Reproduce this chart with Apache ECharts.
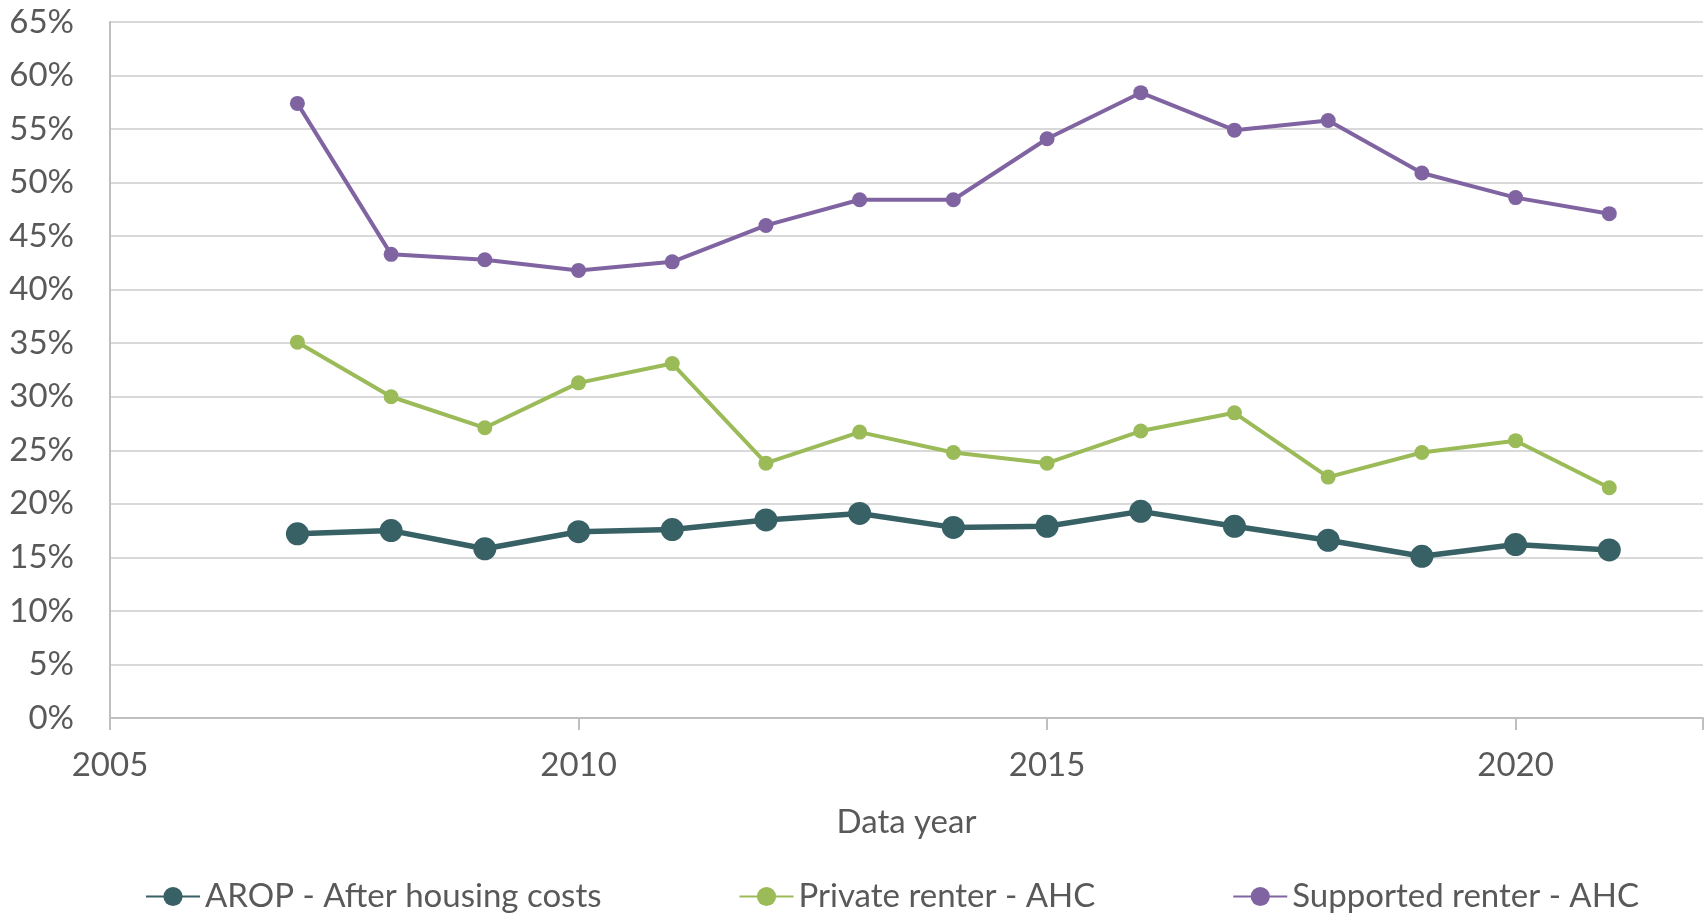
<!DOCTYPE html>
<html>
<head>
<meta charset="UTF-8">
<title>AROP after housing costs</title>
<script src="https://cdn.jsdelivr.net/npm/echarts@6/dist/echarts.min.js"></script>
<style>
  html, body { margin: 0; padding: 0; background: #fff; }
  #main { width: 1706px; height: 915px; }
</style>
</head>
<body>
<div id="main"></div>
<script>
// data (percent)
var years = [2007, 2008, 2009, 2010, 2011, 2012, 2013, 2014, 2015, 2016, 2017, 2018, 2019, 2020, 2021];
var arop = [17.2, 17.5, 15.8, 17.4, 17.6, 18.5, 19.1, 17.8, 17.9, 19.3, 17.9, 16.6, 15.1, 16.2, 15.7];
var privateRenter = [35.1, 30.0, 27.1, 31.3, 33.1, 23.8, 26.7, 24.8, 23.8, 26.8, 28.5, 22.5, 24.8, 25.9, 21.5];
var supportedRenter = [57.4, 43.3, 42.8, 41.8, 42.6, 46.0, 48.4, 48.4, 54.1, 58.4, 54.9, 55.8, 50.9, 48.6, 47.1];
var seriesNames = ['AROP - After housing costs', 'Private renter - AHC', 'Supported renter - AHC'];

function pairs(vals) {
  var out = [];
  for (var i = 0; i < years.length; i++) out.push([years[i], vals[i]]);
  return out;
}

var textColor = '#595959';
var font = 'Lato';

var myChart = echarts.init(document.getElementById('main'));
var option = {
  animation: false,
  textStyle: { fontFamily: font, color: textColor },
  grid: { left: 110, right: 2, top: 22, bottom: 197 },
  legend: {
    left: 140,
    bottom: -3,
    itemWidth: 54,
    itemHeight: 24,
    itemGap: 137,
    textStyle: { fontFamily: font, fontSize: 33, color: textColor },
    data: seriesNames
  },
  xAxis: {
    type: 'value',
    min: 2005,
    max: 2022,
    interval: 5,
    name: 'Data year',
    nameLocation: 'middle',
    nameGap: 88,
    nameTextStyle: { fontFamily: font, fontSize: 33, color: textColor },
    axisLine: { show: true, lineStyle: { color: '#bfbfbf', width: 2 } },
    axisTick: { show: true, length: 12, lineStyle: { color: '#bfbfbf', width: 2 } },
    splitLine: { show: false },
    axisLabel: {
      fontFamily: font, fontSize: 33, color: textColor, margin: 31,
      formatter: function (v) { return v % 5 === 0 ? String(v) : ''; }
    }
  },
  yAxis: {
    type: 'value',
    min: 0,
    max: 65,
    interval: 5,
    axisLine: { show: true, lineStyle: { color: '#bfbfbf', width: 2 } },
    axisTick: { show: false },
    splitLine: { show: true, lineStyle: { color: '#d9d9d9', width: 2 } },
    axisLabel: { fontFamily: font, fontSize: 33, color: textColor, margin: 36, formatter: '{value}%' }
  },
  series: [
    {
      name: seriesNames[0], type: 'line', data: pairs(arop),
      symbol: 'circle', symbolSize: 23, z: 4,
      lineStyle: { color: '#386166', width: 5.5 },
      itemStyle: { color: '#386166' }
    },
    {
      name: seriesNames[1], type: 'line', data: pairs(privateRenter),
      symbol: 'circle', symbolSize: 15, z: 3,
      lineStyle: { color: '#9bbb59', width: 4 },
      itemStyle: { color: '#9bbb59' }
    },
    {
      name: seriesNames[2], type: 'line', data: pairs(supportedRenter),
      symbol: 'circle', symbolSize: 15, z: 3,
      lineStyle: { color: '#8064a2', width: 4 },
      itemStyle: { color: '#8064a2' }
    }
  ]
};
myChart.setOption(option);
</script>
</body>
</html>
